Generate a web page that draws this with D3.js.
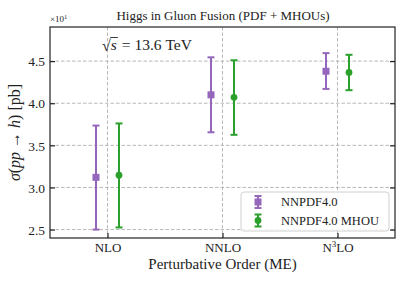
<!DOCTYPE html>
<html>
<head>
<meta charset="utf-8">
<script src="https://cdn.jsdelivr.net/npm/d3@7"></script>
<style>
  body { margin: 0; background: #fff; }
  svg text { font-family: "Liberation Serif", "DejaVu Serif", serif; fill: #222; }
</style>
</head>
<body>
<div id="chart"></div>
<script>
const orders = ["NLO", "NNLO", "N3LO"];
const seriesNames = ["NNPDF4.0", "NNPDF4.0 MHOU"];
const nnpdfCentral = [3.12, 4.10, 4.38];
const nnpdfLow = [2.50, 3.655, 4.17];
const nnpdfHigh = [3.735, 4.545, 4.595];
const mhouCentral = [3.145, 4.07, 4.365];
const mhouLow = [2.525, 3.625, 4.155];
const mhouHigh = [3.76, 4.51, 4.575];
const yTicks = [2.5, 3.0, 3.5, 4.0, 4.5];

const width = 407;
const height = 285;
const margin = { top: 27, right: 12, bottom: 47, left: 50 };

const series = [
  { name: seriesNames[0], color: "#9467bd", shape: "square", offset: -0.1, c: nnpdfCentral, lo: nnpdfLow, hi: nnpdfHigh },
  { name: seriesNames[1], color: "#2ca02c", shape: "circle", offset: 0.1, c: mhouCentral, lo: mhouLow, hi: mhouHigh },
];

const svg = d3.select("#chart").append("svg").attr("width", width).attr("height", height);

const x = d3.scaleLinear().domain([-0.5, 2.5]).range([margin.left, width - margin.right]);
const y = d3.scaleLinear().domain([2.4, 4.905]).range([height - margin.bottom, margin.top]);

const plotLeft = margin.left;
const plotRight = width - margin.right;
const plotTop = margin.top;
const plotBottom = height - margin.bottom;

// grid
svg.append("g")
  .selectAll("line")
  .data(yTicks)
  .join("line")
  .attr("x1", plotLeft).attr("x2", plotRight)
  .attr("y1", (d) => y(d)).attr("y2", (d) => y(d))
  .attr("stroke", "#b0b0b0").attr("stroke-width", 0.9).attr("stroke-dasharray", "3.5,2");

svg.append("g")
  .selectAll("line")
  .data(orders)
  .join("line")
  .attr("x1", (d, i) => x(i)).attr("x2", (d, i) => x(i))
  .attr("y1", plotTop).attr("y2", plotBottom)
  .attr("stroke", "#b0b0b0").attr("stroke-width", 0.9).attr("stroke-dasharray", "3.5,2");

// axes
svg.append("g")
  .attr("transform", `translate(${plotLeft},0)`)
  .call(d3.axisLeft(y).tickValues(yTicks).tickFormat(d3.format(".1f")).tickSizeInner(-5).tickSizeOuter(0).tickPadding(5))
  .call((g) => g.select(".domain").remove())
  .call((g) => g.selectAll("line").attr("stroke", "#222").attr("stroke-width", 1.2))
  .call((g) => g.selectAll("text").style("font-size", "13.5px").attr("dy", "0.35em"));

svg.append("g")
  .attr("transform", `translate(${plotRight},0)`)
  .call(d3.axisRight(y).tickValues(yTicks).tickFormat("").tickSizeInner(-5).tickSizeOuter(0))
  .call((g) => g.select(".domain").remove())
  .call((g) => g.selectAll("line").attr("stroke", "#222").attr("stroke-width", 1.2));

const xAxis = svg.append("g")
  .attr("transform", `translate(0,${plotBottom})`)
  .call(d3.axisBottom(x).tickValues([0, 1, 2]).tickFormat("").tickSizeInner(-5).tickSizeOuter(0))
  .call((g) => g.select(".domain").remove())
  .call((g) => g.selectAll("line").attr("stroke", "#222").attr("stroke-width", 1.2));

xAxis.selectAll(".tick").each(function (d) {
  const t = d3.select(this).append("text").attr("y", 13.5).attr("text-anchor", "middle").style("font-size", "13px");
  if (d === 2) {
    t.append("tspan").text("N");
    t.append("tspan").attr("dy", -5).style("font-size", "9px").text("3");
    t.append("tspan").attr("dy", 5).text("LO");
  } else {
    t.text(orders[d]);
  }
});

svg.append("rect")
  .attr("x", plotLeft).attr("y", plotTop)
  .attr("width", plotRight - plotLeft).attr("height", plotBottom - plotTop)
  .attr("fill", "none").attr("stroke", "#222").attr("stroke-width", 1.2);

// error bars
const cap = 3.5;
series.forEach((s) => {
  const g = svg.append("g");
  g.selectAll("line.err")
    .data(s.c)
    .join("line")
    .attr("class", "err")
    .attr("x1", (d, i) => x(i + s.offset)).attr("x2", (d, i) => x(i + s.offset))
    .attr("y1", (d, i) => y(s.lo[i])).attr("y2", (d, i) => y(s.hi[i]))
    .attr("stroke", s.color).attr("stroke-width", 2);
  ["lo", "hi"].forEach((k) => {
    g.selectAll(`line.cap-${k}`)
      .data(s[k])
      .join("line")
      .attr("class", `cap-${k}`)
      .attr("x1", (d, i) => x(i + s.offset) - cap).attr("x2", (d, i) => x(i + s.offset) + cap)
      .attr("y1", (d) => y(d)).attr("y2", (d) => y(d))
      .attr("stroke", s.color).attr("stroke-width", 2);
  });
  if (s.shape === "square") {
    g.selectAll("rect")
      .data(s.c)
      .join("rect")
      .attr("x", (d, i) => x(i + s.offset) - 3.5).attr("y", (d) => y(d) - 3.5)
      .attr("width", 7).attr("height", 7)
      .attr("fill", s.color);
  } else {
    g.selectAll("circle")
      .data(s.c)
      .join("circle")
      .attr("cx", (d, i) => x(i + s.offset)).attr("cy", (d) => y(d))
      .attr("r", 3.4)
      .attr("fill", s.color);
  }
});

// texts
svg.append("text")
  .attr("x", (plotLeft + plotRight) / 2 + 0.5).attr("y", 20)
  .attr("text-anchor", "middle").style("font-size", "13px")
  .text("Higgs in Gluon Fusion (PDF + MHOUs)");

const mult = svg.append("text").attr("x", plotLeft).attr("y", 22).style("font-size", "9px");
mult.append("tspan").text("\u00d710");
mult.append("tspan").attr("dy", -3.5).style("font-size", "6.5px").text("1");

// sqrt(s) annotation
const sqrtX = 102;
const sqrtY = 50;
const rad = svg.append("text").attr("x", sqrtX).attr("y", sqrtY + 1).style("font-size", "16px").text("\u221a");
const radW = rad.node().getComputedTextLength();
const sVar = svg.append("text").attr("x", sqrtX + radW).attr("y", sqrtY).style("font-size", "15.5px").style("font-style", "italic").text("s");
const sW = sVar.node().getComputedTextLength();
svg.append("line")
  .attr("x1", sqrtX + radW - 0.5).attr("x2", sqrtX + radW + sW + 1)
  .attr("y1", sqrtY - 12.5).attr("y2", sqrtY - 12.5)
  .attr("stroke", "#222").attr("stroke-width", 0.9);
svg.append("text").attr("x", sqrtX + radW + sW + 5).attr("y", sqrtY).style("font-size", "15.5px").text("=\u00a013.6\u00a0TeV");

svg.append("text")
  .attr("x", (plotLeft + plotRight) / 2).attr("y", 269)
  .attr("text-anchor", "middle").style("font-size", "15px")
  .text("Perturbative Order (ME)");

const yl = svg.append("text")
  .attr("transform", `translate(20,${(plotTop + plotBottom) / 2}) rotate(-90)`)
  .attr("text-anchor", "middle").style("font-size", "16px");
yl.append("tspan").style("font-style", "italic").text("\u03c3");
yl.append("tspan").text("(");
yl.append("tspan").style("font-style", "italic").text("pp");
yl.append("tspan").text("\u00a0\u2192\u00a0");
yl.append("tspan").style("font-style", "italic").text("h");
yl.append("tspan").text(")\u00a0[pb]");

// legend
const legend = svg.append("g").attr("transform", "translate(241,192)");
legend.append("rect")
  .attr("width", 148).attr("height", 39).attr("rx", 3)
  .attr("fill", "#fff").attr("fill-opacity", 0.85)
  .attr("stroke", "#d0d0d0").attr("stroke-width", 1);

series.forEach((s, i) => {
  const cy = 10 + i * 18.5;
  const row = legend.append("g").attr("transform", `translate(17,${cy})`);
  row.append("line").attr("y1", -6).attr("y2", 6).attr("stroke", s.color).attr("stroke-width", 2);
  row.append("line").attr("x1", -cap).attr("x2", cap).attr("y1", -6).attr("y2", -6).attr("stroke", s.color).attr("stroke-width", 2);
  row.append("line").attr("x1", -cap).attr("x2", cap).attr("y1", 6).attr("y2", 6).attr("stroke", s.color).attr("stroke-width", 2);
  if (s.shape === "square") {
    row.append("rect").attr("x", -3.5).attr("y", -3.5).attr("width", 7).attr("height", 7).attr("fill", s.color);
  } else {
    row.append("circle").attr("r", 3.4).attr("fill", s.color);
  }
  legend.append("text")
    .attr("x", 40).attr("y", cy + 4)
    .style("font-size", "12.5px")
    .text(s.name);
});
</script>
</body>
</html>
